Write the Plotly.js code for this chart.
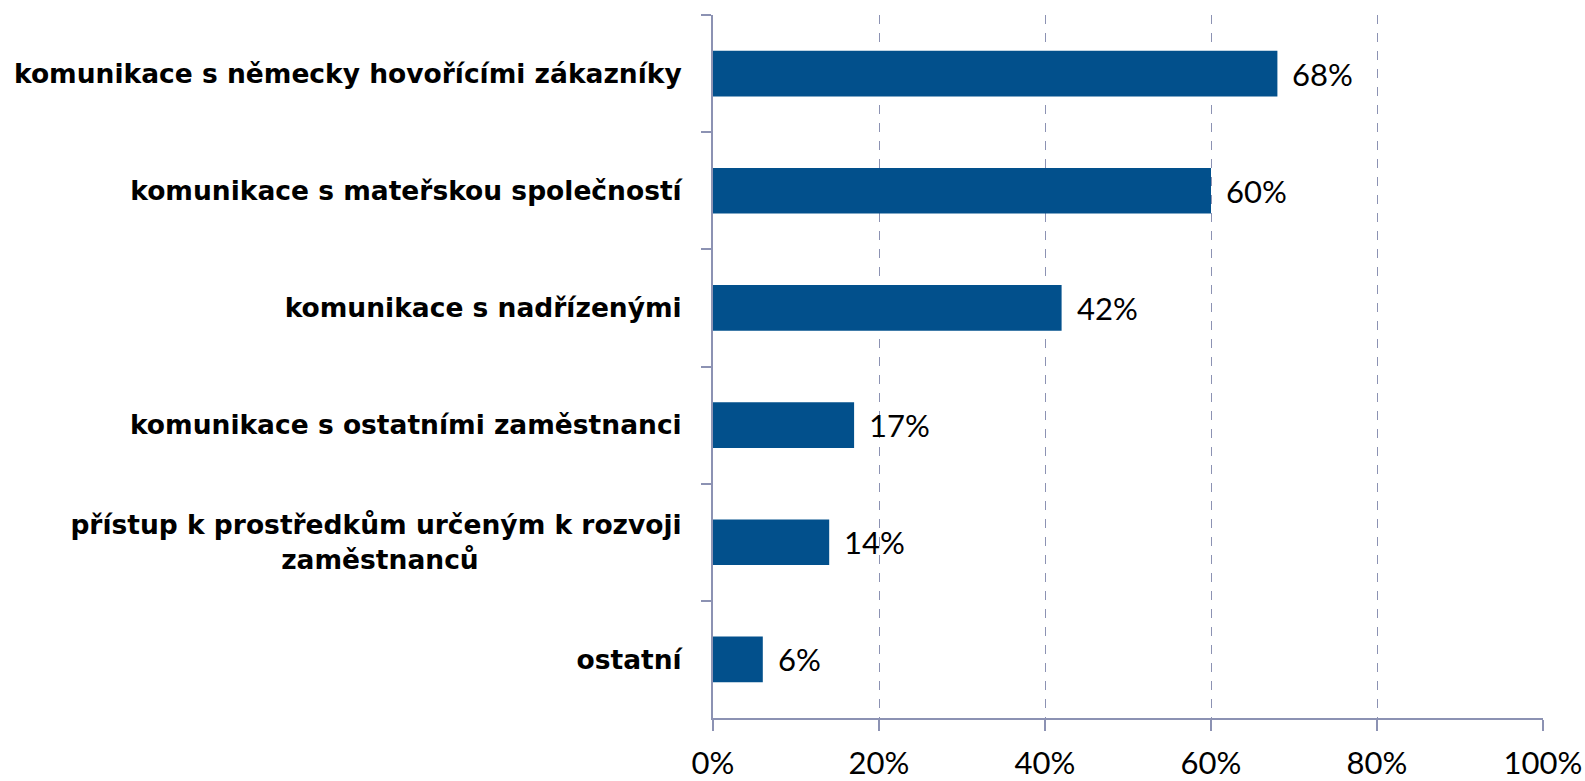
<!DOCTYPE html>
<html>
<head>
<meta charset="utf-8">
<script src="https://cdn.plot.ly/plotly-3.0.1.min.js"></script>
<style>html,body{margin:0;padding:0;background:#fff;}#chart{width:1585px;height:781px;}</style>
</head>
<body>
<div id="chart"></div>
<script>
const categories = [
  "komunikace s německy hovořícími zákazníky",
  "komunikace s mateřskou společností",
  "komunikace s nadřízenými",
  "komunikace s ostatními zaměstnanci",
  "přístup k prostředkům určeným k rozvoji<br>zaměstnanců" + "\u00a0".repeat(22),
  "ostatní"
];
const values = [0.68, 0.60, 0.42, 0.17, 0.14, 0.06];
const xTickValues = [0, 0.2, 0.4, 0.6, 0.8, 1.0];
const xTickLabels = ["0%", "20%", "40%", "60%", "80%", "100%"];

const axisColor = "#8c92b3";
const numFont = {family: "Lato, 'Open Sans', sans-serif", size: 31, color: "#000"};

const trace = {
  type: "bar",
  orientation: "h",
  x: values,
  y: categories,
  marker: {color: "#02508c"},
  hoverinfo: "x+y"
};

const annotations = values.map((v, i) => ({
  x: v, y: categories[i], xref: "x", yref: "y",
  text: Math.round(v * 100) + "%",
  showarrow: false, xanchor: "left", yanchor: "middle",
  xshift: 13, font: numFont
}));

const layout = {
  width: 1585, height: 781,
  margin: {l: 713, r: 42, t: 15, b: 63},
  paper_bgcolor: "#fff", plot_bgcolor: "#fff",
  bargap: 0.61,
  showlegend: false,
  xaxis: {
    range: [0, 1],
    tickvals: xTickValues, ticktext: xTickLabels,
    showgrid: true, gridcolor: axisColor, gridwidth: 1, griddash: "dash",
    showline: true, linecolor: axisColor, linewidth: 2,
    ticks: "outside", ticklen: 11, tickwidth: 2, tickcolor: axisColor,
    tickfont: numFont,
    ticklabelstandoff: 6,
    zeroline: false, fixedrange: true
  },
  yaxis: {
    autorange: "reversed",
    showline: true, linecolor: axisColor, linewidth: 2,
    ticks: "outside", ticklen: 10, tickwidth: 2, tickcolor: axisColor,
    tickson: "boundaries",
    showgrid: false, zeroline: false,
    tickfont: {family: "'DejaVu Sans', sans-serif", size: 26.5, color: "#000", weight: "bold"},
    ticklabelstandoff: 24,
    fixedrange: true
  },
  annotations: annotations
};

Plotly.newPlot("chart", [trace], layout, {displayModeBar: false, staticPlot: true});
</script>
</body>
</html>
